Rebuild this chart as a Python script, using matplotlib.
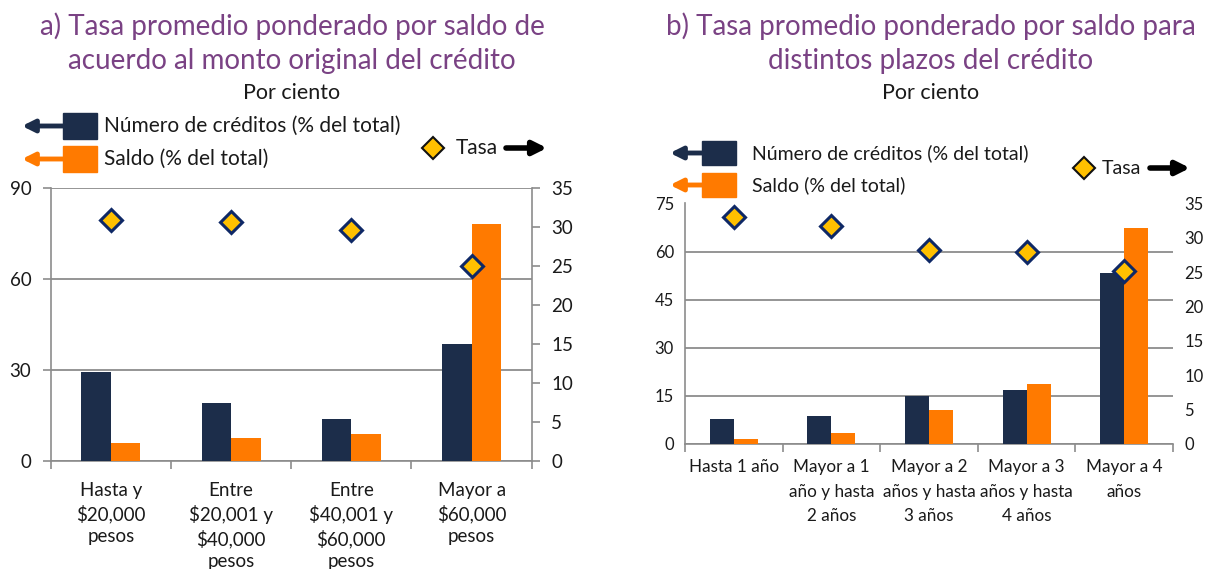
import numpy as np
import matplotlib.pyplot as plt
from matplotlib.patches import Rectangle, FancyArrowPatch
from matplotlib.lines import Line2D

plt.rcParams['font.family'] = ['Lato', 'DejaVu Sans']

# a) monto original del crédito
cats_a = ['Hasta y\n$20,000\npesos', 'Entre\n$20,001 y\n$40,000\npesos',
          'Entre\n$40,001 y\n$60,000\npesos', 'Mayor a\n$60,000\npesos']
num_a = [29.4, 18.9, 13.7, 38.6]
saldo_a = [5.7, 7.6, 8.9, 78.3]
tasa_a = [30.9, 30.7, 29.7, 25.0]

# b) plazos del crédito
cats_b = ['Hasta 1 año', 'Mayor a 1\naño y hasta\n2 años', 'Mayor a 2\naños y hasta\n3 años',
          'Mayor a 3\naños y hasta\n4 años', 'Mayor a 4\naños']
num_b = [7.7, 8.8, 15.0, 16.8, 53.2]
saldo_b = [1.5, 3.5, 10.5, 18.8, 67.4]
tasa_b = [33.1, 31.7, 28.2, 27.9, 25.2]

NAVY = '#1C2D4A'
ORANGE = '#FF7A00'
GOLD = '#FFC000'
EDGE = '#0E2866'
GRID = '#8C8C8C'
PURPLE = '#7A4284'
TXT = '#1A1A1A'

W, H = 1210, 569
fig = plt.figure(figsize=(W / 100, H / 100), dpi=100)


def fx(x):
    return x / W


def fy(y):
    return 1 - y / H


def panel(box, cats, num, saldo, tasa, ymax, ystep, tick_fs, lab_fs, lab_ls, lab_pad, outer_ticks):
    x0, y0, x1, y1 = box
    ax = fig.add_axes([fx(x0), fy(y1), (x1 - x0) / W, (y1 - y0) / H])
    x = np.arange(len(cats))
    w = 0.245
    ax.bar(x - w / 2, num, w, color=NAVY, zorder=3)
    ax.bar(x + w / 2, saldo, w, color=ORANGE, zorder=3)
    ax.set_xlim(-0.5, len(cats) - 0.5)
    ax.set_ylim(0, ymax)
    ax.set_yticks(np.arange(0, ymax + 1, ystep))
    ax.yaxis.grid(True, color=GRID, lw=1.3, zorder=0)
    ax.set_xticks(x)
    ax.set_xticklabels(cats, fontsize=lab_fs, color=TXT, linespacing=lab_ls, va='top')
    ax.set_xticks(np.arange(len(cats) + 1) - 0.5, minor=True)
    ax.tick_params(axis='x', which='major', length=0, pad=lab_pad)
    ax.tick_params(axis='x', which='minor', length=6, color=GRID, width=1.2)
    ax.tick_params(axis='y', labelsize=tick_fs, labelcolor=TXT,
                   length=6 if outer_ticks else 0, color=GRID, width=1.2, pad=8)
    for s in ['top', 'right']:
        ax.spines[s].set_visible(False)
    for s in ['left', 'bottom']:
        ax.spines[s].set_color(GRID)
        ax.spines[s].set_linewidth(1.2)

    axr = ax.twinx()
    axr.plot(x, tasa, 'D', ms=11, mfc=GOLD, mec=EDGE, mew=2.2, zorder=5, clip_on=False)
    axr.set_ylim(0, 35)
    axr.set_yticks(np.arange(0, 36, 5))
    axr.tick_params(axis='y', labelsize=tick_fs, labelcolor=TXT,
                    length=6 if outer_ticks else 0, color=GRID, width=1.2, pad=8)
    for s in ['top', 'left', 'bottom']:
        axr.spines[s].set_visible(False)
    axr.spines['right'].set_visible(outer_ticks)
    axr.spines['right'].set_color(GRID)
    axr.spines['right'].set_linewidth(1.2)
    return ax


panel((50.7, 188.3, 531.7, 460.7), cats_a, num_a, saldo_a, tasa_a, 90, 30, 13.5,
      13.5, 1.38, 15, True)
panel((685, 203.5, 1173, 444), cats_b, num_b, saldo_b, tasa_b, 75, 15, 12,
      12.3, 1.64, 11, False)


def legend(navy_sq, orange_sq, arrow_x0, text_x, y_navy, y_orange, dia, tasa_x, arr_b, fs):
    sw = navy_sq[1] - navy_sq[0]
    for (sq, y, c, label) in [(navy_sq, y_navy, NAVY, 'Número de créditos (% del total)'),
                              (orange_sq, y_orange, ORANGE, 'Saldo (% del total)')]:
        fig.add_artist(Rectangle((fx(sq[0]), fy(y + sq[2] / 2)), sw / W, sq[2] / H,
                                 transform=fig.transFigure, color=c))
        fig.add_artist(FancyArrowPatch((fx(sq[0] + 1), fy(y)), (fx(arrow_x0), fy(y)),
                                       transform=fig.transFigure, arrowstyle='-|>',
                                       mutation_scale=18, lw=3.5, color=c, shrinkA=0, shrinkB=0))
        fig.text(fx(text_x), fy(y), label, fontsize=fs, color=TXT, va='center', ha='left')
    fig.add_artist(Line2D([fx(dia[0])], [fy(dia[1])], marker='D', ms=11.5, mfc=GOLD,
                          mec='#111111', mew=1.5, transform=fig.transFigure))
    fig.text(fx(tasa_x), fy(dia[1]), 'Tasa', fontsize=fs, color=TXT, va='center', ha='left')
    fig.add_artist(FancyArrowPatch((fx(arr_b[0]), fy(dia[1])), (fx(arr_b[1]), fy(dia[1])),
                                   transform=fig.transFigure, arrowstyle='-|>',
                                   mutation_scale=20, lw=4, color='black', shrinkA=0, shrinkB=0))


legend((62.7, 97.3, 26), (62.7, 97.3, 26), 22, 104, 126, 159, (433, 148), 456, (506, 547), 15)
legend((702, 736, 24), (702, 736, 24), 670, 752, 153, 185, (1084, 168), 1102, (1150, 1190), 14)

# titles
for cx, lines in [(292, ['a) Tasa promedio ponderado por saldo de', 'acuerdo al monto original del crédito']),
                  (931, ['b) Tasa promedio ponderado por saldo para', 'distintos plazos del crédito'])]:
    fig.text(fx(cx), fy(26), lines[0], fontsize=20, color=PURPLE, ha='center', va='center')
    fig.text(fx(cx), fy(61), lines[1], fontsize=20, color=PURPLE, ha='center', va='center')
    fig.text(fx(cx), fy(93), 'Por ciento', fontsize=15.5, color=TXT, ha='center', va='center')

fig.savefig('out.png', dpi=100)
